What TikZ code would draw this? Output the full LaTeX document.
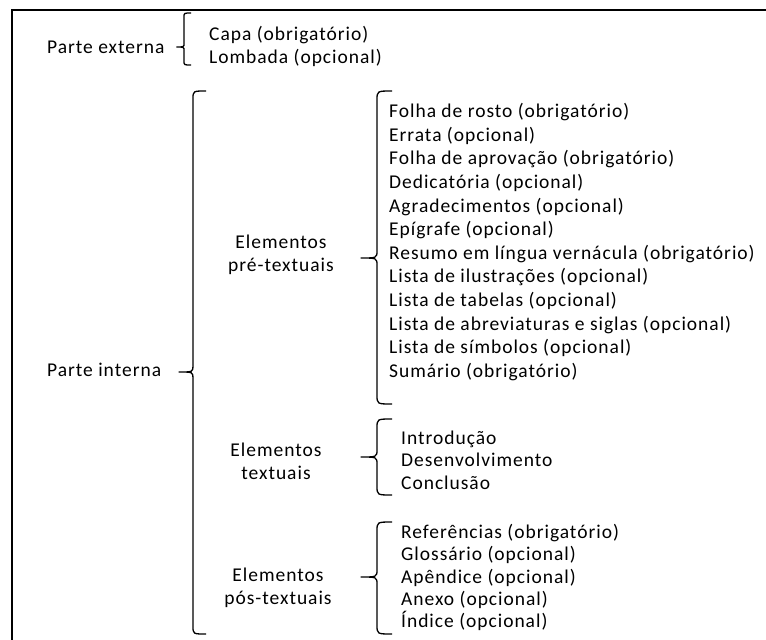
\documentclass[tikz,border=0pt]{standalone}
\usepackage{fontspec}
\setmainfont[LetterSpace = 5]{Carlito}
\tikzstyle{partname} = [
    inner sep = 0pt,
    align = center,
    font = \fontsize{19.5}{23}\selectfont
]
\tikzstyle{itemlist} = [
    inner sep = 0pt,
    align = left,
    anchor = west
]
\tikzstyle{bracket} = [line width = 1.3pt, black]
\tikzstyle{frame} = [line width = 1.2pt, black]

% brace drawn as in a word processor: x, top, tip, bottom, size of hooks
\newcommand{\wordbrace}[5]{%
    \draw[bracket]
        (#1+#5,#2) .. controls (#1,#2) .. (#1,#2+0.6*#5)
        -- (#1,#3-0.5*#5) .. controls (#1,#3) .. (#1-1.1*#5,#3)
        .. controls (#1,#3) .. (#1,#3+0.5*#5)
        -- (#1,#4-0.6*#5) .. controls (#1,#4) .. (#1+#5,#4);
}

\begin{document}
\begin{tikzpicture}[x = 1pt, y = -1pt]
    \useasboundingbox (0,0) rectangle (766,640);

    \draw[frame] (12,640) -- (12,10) -- (766,10);

    \node (externa) [partname, anchor = west] at (47,47) {Parte externa};

    \node
        (externa list)
        [itemlist, font = \fontsize{19.5}{23}\selectfont]
        at (209,46.5)
        {Capa (obrigatório)\\Lombada (opcional)};

    \wordbrace{184}{13}{47}{65}{7}

    \node (interna) [partname, anchor = west] at (47,370) {Parte interna};

    \wordbrace{193}{91}{372}{634}{13}

    \node
        (pre)
        [partname]
        at (281,255)
        {Elementos\\pré-textuais};

    \node
        (pre list)
        [itemlist, font = \fontsize{19.5}{23.6}\selectfont]
        at (389,242)
        {Folha de rosto (obrigatório)\\
         Errata (opcional)\\
         Folha de aprovação (obrigatório)\\
         Dedicatória (opcional)\\
         Agradecimentos (opcional)\\
         Epígrafe (opcional)\\
         Resumo em língua vernácula (obrigatório)\\
         Lista de ilustrações (opcional)\\
         Lista de tabelas (opcional)\\
         Lista de abreviaturas e siglas (opcional)\\
         Lista de símbolos (opcional)\\
         Sumário (obrigatório)};

    \wordbrace{377}{91}{258}{404}{15}

    \node
        (textual)
        [partname]
        at (276,461)
        {Elementos\\textuais};

    \node
        (textual list)
        [itemlist, font = \fontsize{19.5}{22.5}\selectfont]
        at (401,460)
        {Introdução\\Desenvolvimento\\Conclusão};

    \wordbrace{377}{419}{457}{495}{15}

    \node
        (pos)
        [partname]
        at (278,588)
        {Elementos\\pós-textuais};

    \node
        (pos list)
        [itemlist, font = \fontsize{19.5}{22.3}\selectfont]
        at (401,577.5)
        {Referências (obrigatório)\\
         Glossário (opcional)\\
         Apêndice (opcional)\\
         Anexo (opcional)\\
         Índice (opcional)};

    \wordbrace{377}{522}{577}{634}{15}

\end{tikzpicture}
\end{document}
